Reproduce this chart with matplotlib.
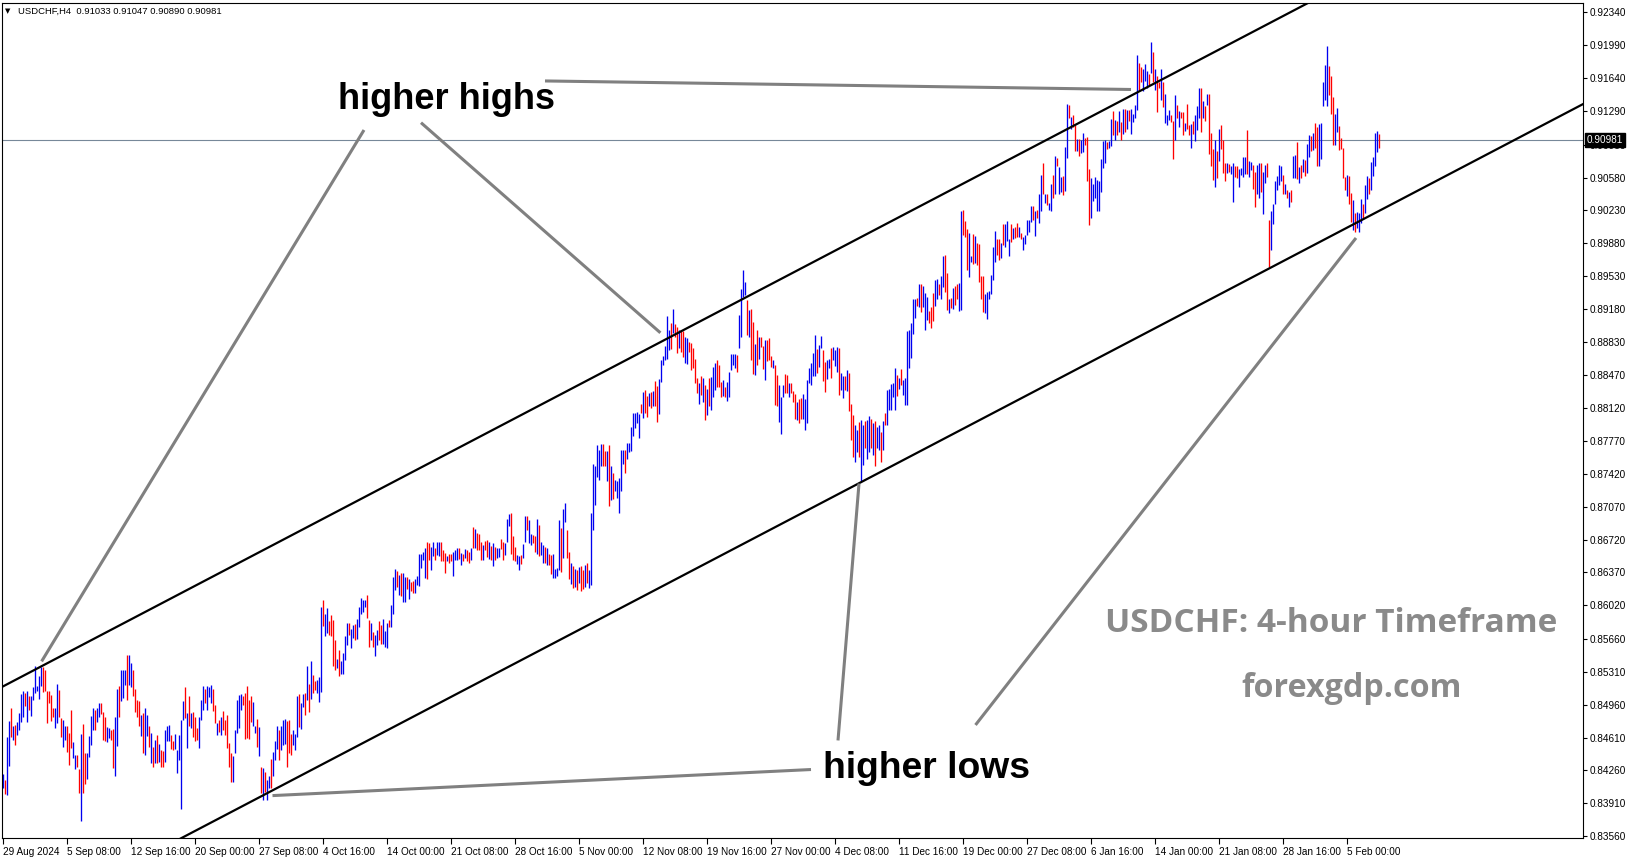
import matplotlib
matplotlib.use("Agg")
import matplotlib.pyplot as plt
import matplotlib.transforms as mtransforms
import numpy as np

plt.rcParams['font.family'] = ['Liberation Sans', 'DejaVu Sans']

# ---------------- DATA (prices in 1e-4 units, H4 bars) ----------------
symbol = "USDCHF"
timeframe = "H4"
last_ohlc = [0.91033, 0.91047, 0.90890, 0.90981]

high_seg1 = [8422,8416,8462,8479,8492,8473,8474,8478,8487,8507,
             8511,8509,8511,8505,8505,8515,8537,8516,8527,8536,
             8536,8533,8511,8511,8506,8493,8493,8518,8512,8482,
             8480,8473,8473,8466,8490,8456,8442,8442,8427,8465,
             8475,8444,8445,8463,8484,8493,8490,8493,8498,8498,
             8488,8483,8472,8471,8469,8470,8483,8513,8516,8533,
             8533,8533,8549,8549,8540,8533,8513,8501,8500,8485,
             8487,8493,8485,8473,8466,8451,8458,8464,8454,8448,
             8447,8469,8473,8474,8464,8457,8465,8448,8464,8480,
             8500,8515,8487,8505,8487,8488,8483,8471,8483,8501,
             8516,8513,8516,8515,8517,8513,8496,8476,8480,8483,
             8489,8480,8485,8455,8444,8441,8469,8501,8506,8507,
             8505,8509,8516,8501,8505,8499,8473,8481,8472,8430,
             8428,8424,8416,8420,8438,8446,8457,8473,8469,8473,
             8480,8481,8479,8480,8465,8469,8465]
low_seg1 = [8407,8401,8400,8431,8462,8458,8453,8464,8469,8478,
            8483,8495,8478,8490,8484,8501,8508,8511,8502,8516,
            8510,8511,8477,8498,8479,8483,8471,8476,8483,8462,
            8451,8458,8446,8432,8450,8439,8427,8430,8402,8372,
            8402,8412,8417,8440,8453,8469,8469,8478,8483,8486,
            8458,8457,8456,8460,8458,8428,8420,8452,8483,8500,
            8503,8517,8501,8517,8515,8505,8488,8483,8473,8463,
            8444,8442,8463,8451,8434,8430,8434,8434,8435,8430,
            8430,8435,8457,8457,8449,8448,8449,8423,8437,8385,
            8480,8482,8450,8473,8471,8462,8457,8458,8450,8480,
            8490,8498,8490,8504,8498,8489,8476,8464,8467,8464,
            8469,8464,8450,8430,8414,8414,8444,8466,8471,8490,
            8496,8459,8460,8459,8478,8473,8466,8451,8441,8402,
            8394,8403,8394,8407,8407,8420,8437,8449,8437,8448,
            8453,8454,8430,8444,8442,8453,8448]
dir_seg1 = ("uduud uduuu ududu uuuuu ddddd duudd uuddd uuddu dduuu uduud "
            "dduud duudu uuduu ddddu duudu dudud duuud duuuu ududu ddduu "
            "uduuu ddudu ddddd uuuuu ddddd uudud uduud uuudu uuddd uu")

high_seg2 = [8505,8507,8498,
             8507,8508,8537,8518,8543,8528,8521,8522,8526,8600,
             8608,8593,8599,8585,8592,8586,8565,8545,8554,8543,
             8551,8569,8583,8583,8577,8581,8582,8587,8600,8610,
             8608,8608,8613,8586,8583,8574,8570,8576,8585,8581,
             8587,8575,8583,8586,8602,8632,8641,8639,8634,8636,
             8636,8632,8632,8630,8627,8628,8630,8633,8657,8657,
             8659,8663,8670,8668,8664,8669,8663,8670,8670,8670,
             8661,8658,8655,8657,8657,8659,8661,8663,8663,8658,
             8657,8662,8661,8659,8663,8685,8683,8679,8678,8669,
             8666,8671,8672,8670,8665,8668,8664,8663,8663,8673,
             8670,8668,8694,8699,8700,8676,8664,8656,8655,8656,
             8667,8697,8697,8693,8678,8677,8676,8694,8688,8670,
             8666,8664,8663,8657,8656,8657,8641,8642,8693,8684,
             8705,8711,8682,8659]
low_seg2 = [8462,8472,8470,
            8494,8485,8501,8488,8502,8508,8512,8508,8499,8510,
            8580,8569,8572,8570,8569,8537,8533,8535,8527,8529,
            8529,8544,8560,8570,8556,8567,8565,8566,8579,8593,
            8595,8600,8588,8557,8565,8558,8548,8560,8565,8561,
            8561,8557,8556,8579,8579,8593,8618,8621,8613,8612,
            8606,8606,8619,8609,8617,8615,8615,8624,8623,8642,
            8650,8631,8630,8650,8640,8655,8650,8656,8655,8649,
            8649,8636,8649,8647,8649,8633,8650,8650,8651,8645,
            8649,8652,8649,8647,8650,8663,8663,8661,8661,8650,
            8650,8661,8653,8651,8650,8644,8650,8652,8653,8662,
            8650,8656,8669,8686,8657,8650,8649,8646,8640,8646,
            8652,8670,8682,8668,8666,8668,8659,8657,8655,8656,
            8647,8647,8645,8645,8635,8631,8631,8633,8640,8638,
            8652,8691,8652,8630]
dir_seg2 = ("udu ududu dduuu duudd ddudu uuudu uduuu uuddu duudd uuudu uudud "
            "uudud duuuu uuddu uduud ddudd uuudu duddu duddd uddud uduud "
            "duuud dduud uuduu ddudu ududd uuuud uudd")

high_seg3 = [8647,8644,8641,8640,8643,8644,8640,8645,8647,8640,
             8700,8753,8750,8773,8768,8774,8774,8766,8766,8773,
             8750,8743,8736,8735,8738,8768,8768,8768,8775,8775,
             8792,8807,8807,8808,8806,8817,8829,8831,8825,8828,
             8829,8830,8841,8836,8843,8864,8868,8878,8910,8895,
             8903,8918,8902,8899,8896,8896,8894,8888,8887,8883,
             8882,8876,8865,8844,8839,8846,8844,8837,8833,8844,
             8845,8856,8860,8863,8858,8840,8842,8835,8840,8851,
             8870,8870,8870,8869,8911,8939,8959,8947,8927,8917,
             8918,8904,8881,8896,8888,8888,8878,8885,8885,8887,
             8868,8864,8858,8847,8837,8824,8837,8849,8847,8839,
             8839,8830,8827,8819,8822,8823,8827,8822,8842,8855,
             8860,8871,8890,8875,8879,8889,8874,8861,8864,8865,
             8876,8877]
low_seg3 = [8625,8620,8622,8618,8626,8617,8619,8622,8626,8620,
            8624,8682,8709,8739,8736,8750,8750,8750,8735,8708,
            8714,8715,8724,8716,8700,8724,8753,8743,8758,8765,
            8766,8782,8791,8796,8780,8807,8802,8807,8803,8814,
            8812,8814,8814,8797,8806,8840,8858,8864,8865,8874,
            8875,8892,8888,8871,8876,8872,8867,8860,8859,8872,
            8853,8855,8839,8828,8817,8826,8819,8800,8805,8814,
            8810,8824,8831,8835,8835,8824,8825,8824,8820,8824,
            8853,8858,8855,8851,8876,8888,8931,8933,8890,8888,
            8863,8849,8848,8858,8865,8877,8854,8842,8862,8863,
            8856,8855,8816,8814,8797,8785,8824,8828,8828,8824,
            8828,8819,8801,8799,8796,8801,8801,8789,8796,8839,
            8837,8846,8846,8850,8856,8876,8841,8829,8843,8855,
            8844,8864]
dir_seg3 = ("ududu ddudu uuuuu uddud uduuu uuduu uuuuu duddu duddu uuuuu "
            "duddu dduud ddddu dudud uuudd duduu uuudu uuudu ddudu ddudd "
            "duddu uuddu dddud duuuu uuudu udduu du")

high_seg4 = [8874,8877,8876,8850,8846,8846,8853,8850,8817,8805,
             8794,8789,8797,8800,8794,8798,8799,8804,8801,8796,
             8798,8792,8794,8787,8798,8807,8832,8833,8838,8839,
             8855,8848,8844,8854,8842,8844,8894,8895,8903,8929,
             8929,8930,8945,8945,8942,8935,8931,8916,8920,8935,
             8949,8950,8945,8953,8974,8975,8956,8929,8930,8940,
             8942,8945,8946,9022,9023,9012,9003,8999,8974,8998,
             8996,8988,8987,8953,8953,8934,8936,8937,8954,8984,
             9001,8992,8993,8988,9009,9009,9012,8993,9009,9004,
             9005,9010,9005,8999,8995,8997,9013,9013,9028,9028,
             9022,9023]
low_seg4 = [8857,8851,8826,8832,8823,8832,8830,8809,8778,8760,
            8755,8765,8760,8735,8752,8770,8758,8765,8770,8762,
            8750,8770,8768,8755,8768,8794,8794,8810,8810,8824,
            8810,8825,8833,8837,8826,8816,8816,8855,8866,8891,
            8908,8921,8920,8915,8920,8896,8906,8903,8898,8905,
            8921,8928,8933,8929,8941,8936,8917,8914,8919,8918,
            8922,8928,8916,8917,8997,8995,8959,8952,8968,8966,
            8967,8965,8947,8928,8915,8914,8907,8928,8934,8949,
            8968,8975,8970,8972,8986,8984,8990,8974,8989,8992,
            8994,8995,8995,8992,8981,8987,8997,9000,9011,9013,
            8996,9015]
dir_seg4 = ("uuduu duddd uuduu duudu duudu duuuu ududu uuuuu ududu uuddd "
            "uuduu ddudu dduud dduud udddd uuuuu uddud uuudu ddudu uuuud ud")

high_seg5 = [9040,9061,9073,9041,9041,9031,9051,9061,9081,9079,
             9069,9059,9060,9091,9136,9135,9123,9125,9114,9099,
             9099,9098,9105,9100,9101,9067,9058,9051,9059,9055,
             9054,9078,9097,9098,9096,9097,9120,9129,9119,9118,
             9129,9117,9131,9131,9130,9130,9131,9126,9135,9189,
             9180,9176,9174,9179,9172,9168,9202,9192,9174,9166,
             9160,9174,9160,9147,9125,9130,9125,9118,9146,9135,
             9129,9128,9128,9116,9136,9114,9115,9118,9125,9134,
             9153,9153,9140,9134,9147,9147]
low_seg5 = [9010,9022,9041,9031,9029,9023,9022,9036,9041,9070,
            9041,9043,9039,9044,9079,9121,9110,9112,9086,9086,
            9081,9084,9085,9093,9054,9007,9015,9033,9036,9022,
            9022,9043,9068,9074,9088,9089,9092,9103,9098,9103,
            9107,9098,9104,9107,9110,9118,9104,9117,9121,9130,
            9150,9160,9150,9161,9153,9157,9169,9160,9151,9128,
            9153,9141,9133,9116,9114,9119,9117,9078,9098,9122,
            9112,9121,9103,9108,9110,9103,9090,9104,9097,9109,
            9121,9107,9122,9118,9135,9083]
dir_seg5 = ("uudud uudud uuduu duddu duudd duuuu uuuud uudud ududu duuuu "
            "dduuu dudud duduu uddud uddud duduu ududu d")

high_seg6 = [9105,9088,9098,9086,9110,9114,9098,9073,9073,9072,
             9070,9073,9070,9070,9067,9068,9080,9080,9109,9076,
             9075,9071,9064,9071,9073,9073,9064,9071,9073,9013,
             9022,9030,9054,9060,9071,9070,9061,9051,9045,9043,
             9045,9081,9082,9096,9069,9071,9078,9077,9094,9103,
             9102,9105,9116,9112,9115,9116,9160,9178,9198,9177,
             9166,9144,9126,9132,9113,9100,9089,9059,9061,9060,
             9042,9034,9020,9021,9020]
low_seg6 = [9070,9055,9048,9057,9076,9088,9063,9054,9063,9064,
            9062,9032,9059,9057,9048,9061,9059,9062,9062,9059,
            9066,9046,9027,9040,9036,9043,9019,9052,9059,8963,
            8981,9009,9030,9045,9050,9054,9041,9041,9036,9027,
            9032,9057,9057,9056,9052,9057,9064,9060,9063,9080,
            9086,9087,9089,9070,9070,9078,9134,9141,9134,9146,
            9126,9093,9093,9107,9087,9088,9057,9045,9038,9030,
            9011,9002,9000,9004,9000]
dir_seg6 = ("ddudu dddud uuddu uuudu udduu duudd uuuuu ududu duudu duduu "
            "duddu uuuud dduud dddud duduu")

high_seg7 = [9035,9030,9050,9060,9058,9075,9080,9105,9108,9104.7]
low_seg7 = [9010,9015,9020,9035,9040,9045,9060,9070,9085,9089.0]
dir_seg7 = "uduud uuuud"

# axis labels
ytick_values = [0.92340, 0.91990, 0.91640, 0.91290, 0.90930, 0.90580, 0.90230,
                0.89880, 0.89530, 0.89180, 0.88830, 0.88470, 0.88120, 0.87770,
                0.87420, 0.87070, 0.86720, 0.86370, 0.86020, 0.85660, 0.85310,
                0.84960, 0.84610, 0.84260, 0.83910, 0.83560]
xtick_labels = ["29 Aug 2024", "5 Sep 08:00", "12 Sep 16:00", "20 Sep 00:00",
                "27 Sep 08:00", "4 Oct 16:00", "14 Oct 00:00", "21 Oct 08:00",
                "28 Oct 16:00", "5 Nov 00:00", "12 Nov 08:00", "19 Nov 16:00",
                "27 Nov 00:00", "4 Dec 08:00", "11 Dec 16:00", "19 Dec 00:00",
                "27 Dec 08:00", "6 Jan 16:00", "14 Jan 00:00", "21 Jan 08:00",
                "28 Jan 16:00", "5 Feb 00:00"]
bars_per_label = 32

# channel trend lines: two anchor points each (bar index, price)
upper_channel = [(0, 0.85158), (650, 0.92416)]
lower_channel = [(92, 0.83572), (790, 0.91366)]

# annotation pointer lines (bar index, price)
hh_pointers = [[(180.25, 0.91087), (19.05, 0.85422)],
               [(208.75, 0.91165), (328.45, 0.88925)],
               [(270.75, 0.91610), (563.75, 0.91519)]]
hl_pointers = [[(417.25, 0.84579), (427.75, 0.87318)],
               [(403.75, 0.84269), (134.5, 0.83991)],
               [(486.0, 0.84744), (676.25, 0.89936)]]

# ---------------- BUILD ----------------
highs = np.array(high_seg1 + high_seg2 + high_seg3 + high_seg4 + high_seg5 + high_seg6 + high_seg7) / 10000.0
lows = np.array(low_seg1 + low_seg2 + low_seg3 + low_seg4 + low_seg5 + low_seg6 + low_seg7) / 10000.0
dirs = "".join([dir_seg1, dir_seg2, dir_seg3, dir_seg4, dir_seg5, dir_seg6, dir_seg7]).replace(" ", "")
n = min(len(highs), len(lows))
highs, lows = highs[:n], lows[:n]
dirs = (dirs + "u" * n)[:n]
idx = np.arange(n)
up = np.array([c == 'u' for c in dirs])

FW, FH = 1631, 861
fig = plt.figure(figsize=(FW / 100, FH / 100), dpi=100)
fig.patch.set_facecolor('white')
ax_l, ax_r, ax_t, ax_b = 2, 1583, 3, 838
ax = fig.add_axes([ax_l / FW, 1 - ax_b / FH, (ax_r - ax_l) / FW, (ax_b - ax_t) / FH])
ax.set_facecolor('white')
ax.set_xlim(-0.75, 789.75)
ax.set_ylim(0.83539, 0.92441)

# price line
ax.axhline(last_ohlc[3], color='#778899', lw=0.8, zorder=1)

# bars
ax.vlines(idx[up], lows[up], highs[up], colors='#0000F0', linewidth=0.95,
          antialiased=True, zorder=2)
ax.vlines(idx[~up], lows[~up], highs[~up], colors='#FF0000', linewidth=0.95,
          antialiased=True, zorder=2)

# channel lines
xs = np.array([-5.0, 800.0])
for (x1, y1), (x2, y2) in (upper_channel, lower_channel):
    slope = (y2 - y1) / (x2 - x1)
    ax.plot(xs, y1 + slope * (xs - x1), color='black', lw=1.6, zorder=4,
            solid_capstyle='butt')

# pointer lines
for seg in hh_pointers + hl_pointers:
    (x1, y1), (x2, y2) = seg
    ax.plot([x1, x2], [y1, y2], color='#808080', lw=2.2, zorder=5,
            solid_capstyle='butt')

# annotations
ax.text(167.25, 0.91407, "higher highs", fontsize=26, fontweight='bold',
        family=['Liberation Sans', 'DejaVu Sans'], ha='left', va='center', zorder=6)
ax.text(409.75, 0.84275, "higher lows", fontsize=26.8, fontweight='bold',
        family=['Liberation Sans', 'DejaVu Sans'], ha='left', va='center', zorder=6)
ax.text(550.75, 0.85830, f"{symbol}: 4-hour Timeframe", fontsize=24, fontweight='bold',
        family=['Open Sans', 'DejaVu Sans'], color='#8a8a8a', ha='left', va='center', zorder=6)
ax.text(674.25, 0.85128, "forexgdp.com", fontsize=23.2, fontweight='bold',
        family=['Open Sans', 'DejaVu Sans'], color='#8a8a8a', ha='center', va='center', zorder=6)

# axes ticks
ax.yaxis.tick_right()
ax.set_yticks(ytick_values)
ax.set_yticklabels([f"{v:.5f}" for v in ytick_values])
ax.tick_params(axis='y', direction='out', length=3, width=0.8, pad=2, labelsize=7.2)
xt = [k * bars_per_label for k in range(len(xtick_labels))]
ax.set_xticks(xt)
ax.set_xticklabels(xtick_labels, ha='left')
ax.tick_params(axis='x', direction='out', length=4, width=0.8, pad=2.5, labelsize=7.2)
for s in ax.spines.values():
    s.set_linewidth(0.8)
    s.set_color('black')

# current price box
trans = mtransforms.blended_transform_factory(ax.transAxes, ax.transData)
ax.text(1 + 4 / (ax_r - ax_l), last_ohlc[3], f"{last_ohlc[3]:.5f}", transform=trans,
        ha='left', va='center', color='white', fontsize=7.2,
        bbox=dict(boxstyle='square,pad=0.18', fc='black', ec='black'),
        clip_on=False, zorder=10)

# header
fig.text(5 / FW, 1 - 11 / FH, "\u25BC", fontsize=5, family='DejaVu Sans',
         ha='left', va='center')
fig.text(18 / FW, 1 - 11 / FH,
         f"{symbol},{timeframe}  " + " ".join(f"{v:.5f}" for v in last_ohlc),
         fontsize=6.8, ha='left', va='center')

fig.savefig("out.png", dpi=100, facecolor='white')
